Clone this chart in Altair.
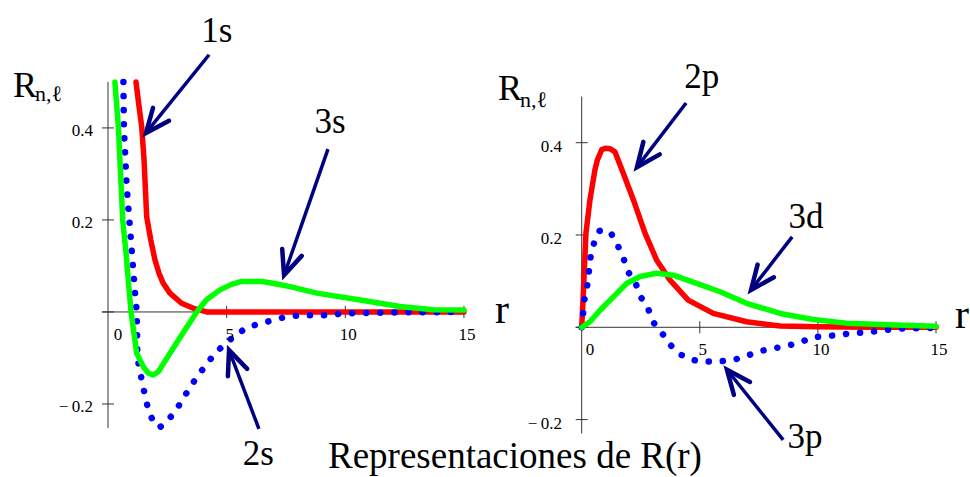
import math
import altair as alt
import pandas as pd

# ---------------- values ----------------
# Left panel: s orbitals
r_1s = [1.18, 1.30, 1.42, 1.52, 1.63, 1.80, 1.98, 2.15, 2.33, 2.61, 3.10, 3.60, 4.16, 6.0, 9.0, 12.0, 15.0]
R_1s = [0.500, 0.450, 0.403, 0.330, 0.207, 0.157, 0.113, 0.084, 0.062, 0.041, 0.019, 0.008, 0.000, 0.000, 0.000, 0.000, 0.000]

r_2s = [0.65, 0.67, 0.79, 0.90, 1.03, 1.14, 1.21, 1.24, 1.35, 1.59, 1.74, 1.99, 2.20, 2.44, 2.81, 3.15, 3.46, 3.83,
        4.16, 4.51, 4.96, 5.39, 5.91, 6.48, 6.97, 7.56, 8.12, 9.33, 9.90, 12.0, 15.0]
R_2s = [0.500, 0.400, 0.270, 0.200, 0.113, 0.041, 0.000, -0.100, -0.129, -0.190, -0.219, -0.247, -0.250, -0.240,
        -0.218, -0.190, -0.163, -0.136, -0.113, -0.090, -0.068, -0.050, -0.032, -0.025, -0.017, -0.010, -0.007,
        -0.007, -0.003, -0.001, 0.000]

r_3s = [0.29, 0.44, 0.62, 0.76, 0.97, 1.21, 1.49, 1.70, 1.91, 2.12, 2.61, 3.24, 3.74, 4.16, 4.72, 5.20, 5.60, 6.50,
        7.00, 7.67, 8.80, 10.5, 12.3, 13.7, 15.0]
R_3s = [0.500, 0.400, 0.200, 0.128, 0.000, -0.090, -0.119, -0.133, -0.137, -0.130, -0.090, -0.039, 0.000, 0.027,
        0.048, 0.060, 0.066, 0.066, 0.062, 0.055, 0.041, 0.027, 0.012, 0.005, 0.004]

# Right panel: p and d orbitals
r_2p = [0.0, 0.07, 0.18, 0.35, 0.56, 0.66, 0.85, 1.03, 1.20, 1.41, 1.76, 2.19, 2.68, 3.17, 3.74, 4.51, 5.57, 6.98,
        8.40, 10.0, 12.5, 15.0]
R_2p = [0.000, 0.074, 0.204, 0.276, 0.341, 0.362, 0.385, 0.388, 0.387, 0.380, 0.334, 0.276, 0.204, 0.146, 0.102,
        0.059, 0.030, 0.012, 0.003, 0.001, 0.000, 0.000]

r_3p = [0.0, 0.06, 0.12, 0.24, 0.31, 0.38, 0.52, 0.76, 1.00, 1.23, 1.52, 1.76, 1.97, 2.30, 2.51, 2.82, 3.03, 3.41,
        3.71, 4.18, 4.68, 5.23, 5.83, 6.42, 7.03, 7.59, 8.11, 8.70, 9.24, 9.76, 10.33, 10.9, 11.5, 12.1, 12.6, 13.2,
        13.8, 14.4, 15.0]
R_3p = [0.000, 0.030, 0.061, 0.092, 0.124, 0.155, 0.182, 0.209, 0.211, 0.205, 0.178, 0.151, 0.120, 0.093, 0.065,
        0.039, 0.011, -0.013, -0.036, -0.059, -0.071, -0.074, -0.074, -0.071, -0.061, -0.051, -0.046, -0.040,
        -0.033, -0.022, -0.019, -0.017, -0.012, -0.012, -0.007, -0.004, -0.002, -0.002, -0.001]

r_3d = [0.0, 0.35, 0.78, 1.34, 1.90, 2.47, 3.17, 3.88, 4.87, 5.86, 6.98, 8.40, 9.80, 11.2, 13.3, 15.0]
R_3d = [0.000, 0.012, 0.037, 0.066, 0.095, 0.110, 0.117, 0.113, 0.095, 0.077, 0.052, 0.030, 0.017, 0.009, 0.005,
        0.002]

# tick values
x_ticks = [5, 10, 15]
x_tick_labels = ["0", "5", "10", "15"]
y_ticks_left = [0.4, 0.2, 0.0, -0.2]
y_ticks_right = [0.4, 0.2, 0.0, -0.2]
y_tick_labels = ["0.4", "0.2", "\u2212\u20090.2"]

# annotation labels and arrows (tail -> tip, data units)
left_labels = ["1s", "3s", "2s"]
left_label_pos = [(4.59, 0.5876), (9.36, 0.3885), (6.33, -0.3326)]
left_arrows = [((4.26, 0.559), (1.60, 0.389)), ((9.27, 0.354), (7.42, 0.080)), ((6.36, -0.254), (5.10, -0.083))]

right_labels = ["2p", "3d", "3p"]
right_label_pos = [(5.08, 0.518), (9.50, 0.2145), (9.45, -0.262)]
right_arrows = [((4.42, 0.486), (2.34, 0.347)), ((8.91, 0.196), (7.17, 0.081)), ((8.53, -0.244), (6.15, -0.092))]

title_text = "Representaciones de R(r)"

# ---------------- layout ----------------
W, H = 485, 477
LX, LY = [-4.551, 15.887], [-0.3587, 0.678]
RX, RY = [-4.094, 16.44], [-0.3244, 0.7092]
FONT = "Liberation Serif"
NAVY = "#000080"
AX = "#333333"


def sc(dom):
    return alt.Scale(domain=dom, nice=False, zero=False)


def enc_xy(xd, yd):
    return dict(x=alt.X("x:Q", scale=sc(xd), axis=None), y=alt.Y("y:Q", scale=sc(yd), axis=None))


def curve(r, R, color, xd, yd, dotted=False):
    df = pd.DataFrame({"x": r, "y": R, "i": list(range(len(r)))})
    kw = dict(color=color, strokeJoin="round", strokeCap="round", strokeWidth=5.5)
    if dotted:
        kw.update(strokeDash=[0.1, 14], strokeWidth=6.5)
    return alt.Chart(df).mark_line(**kw).encode(order="i:Q", **enc_xy(xd, yd))


def rules(rows, xd, yd, color, width):
    df = pd.DataFrame(rows, columns=["x", "y", "x2", "y2"])
    return alt.Chart(df).mark_rule(color=color, strokeWidth=width).encode(
        x2="x2:Q", y2="y2:Q", **enc_xy(xd, yd))


def texts(rows, xd, yd, size, align, baseline, color="black"):
    df = pd.DataFrame(rows, columns=["x", "y", "t"])
    return alt.Chart(df).mark_text(font=FONT, fontSize=size, align=align, baseline=baseline,
                                   color=color).encode(text="t:N", **enc_xy(xd, yd))


def arrows(arr, xd, yd):
    sx = W / (xd[1] - xd[0])
    sy = H / (yd[1] - yd[0])
    shafts = [(t[0], t[1], h[0], h[1]) for t, h in arr]
    heads = []
    for t, h in arr:
        dx = (h[0] - t[0]) * sx
        dy = -(h[1] - t[1]) * sy
        ang = math.degrees(math.atan2(dy, dx)) % 360
        heads.append({"x": h[0], "y": h[1], "ang": ang})
    shaft_layer = rules(shafts, xd, yd, NAVY, 3.5)
    head_layer = alt.Chart(pd.DataFrame(heads)).mark_point(
        shape="M -1 -0.43 L 0 0 L -1 0.43", filled=False, stroke=NAVY, strokeWidth=4.5,
        strokeJoin="miter", strokeCap="round", size=2300, opacity=1
    ).encode(angle=alt.Angle("ang:Q", scale=None), **enc_xy(xd, yd))
    return shaft_layer + head_layer


def panel(xd, yd, curves, ytick_vals, y_bottom, xlab_dx0, xlab_y, ylab_x, ylab_dy,
          labels, label_pos, arr, rlab, Rlab, sub):
    sx = W / (xd[1] - xd[0])
    sy = H / (yd[1] - yd[0])
    tx = 6 / sx  # half tick length in x units
    ty = 6 / sy  # half tick length in y units
    axis_rows = [(0, y_bottom, 0, 0.5), (-tx, 0, 15, 0)]
    axis_rows += [(-tx, v, tx, v) for v in ytick_vals]
    axis_rows += [(v, -ty, v, ty) for v in x_ticks]
    layers = [rules(axis_rows, xd, yd, AX, 1)]
    layers += curves
    # x tick labels
    xl = [(xlab_dx0, xlab_y, x_tick_labels[0])]
    xl += [(v + 3 / sx, xlab_y, lab) for v, lab in zip(x_ticks, x_tick_labels[1:])]
    layers.append(texts(xl, xd, yd, 17, "center", "middle"))
    # y tick labels
    yl = [(ylab_x, v - ylab_dy / sy, lab) for v, lab in zip([0.4, 0.2, -0.2], y_tick_labels)]
    layers.append(texts(yl, xd, yd, 17, "right", "middle"))
    # curve labels
    layers.append(texts([(p[0], p[1], t) for p, t in zip(label_pos, labels)], xd, yd, 35, "center", "alphabetic"))
    layers.append(arrows(arr, xd, yd))
    # r label and R_{n,l}
    layers.append(texts([rlab], xd, yd, 42, "center", "alphabetic"))
    layers.append(texts([Rlab], xd, yd, 36, "left", "alphabetic"))
    layers.append(texts([sub], xd, yd, 22, "left", "alphabetic"))
    return layers


left_curves = [
    curve(r_1s, R_1s, "#ff0000", LX, LY),
    curve(r_2s, R_2s, "#0000ff", LX, LY, dotted=True),
    curve(r_3s, R_3s, "#00ff00", LX, LY),
]
right_curves = [
    curve(r_2p, R_2p, "#ff0000", RX, RY),
    curve(r_3p, R_3p, "#0000ff", RX, RY, dotted=True),
    curve(r_3d, R_3d, "#00ff00", RX, RY),
]

left_layers = panel(LX, LY, left_curves, y_ticks_left, -0.252, 0.42, -0.05, -0.63, 3.5,
                    left_labels, left_label_pos, left_arrows,
                    (16.6, -0.024, "r"), (-4.0, 0.4667, "R"), (-3.08, 0.4587, "n,\u2113"))
left_layers.append(texts([(17.15, -0.3395, title_text)], LX, LY, 37, "center", "alphabetic"))
left = alt.layer(*left_layers).properties(width=W, height=H)

right_layers = panel(RX, RY, right_curves, y_ticks_right, -0.23, 0.35, -0.049, -0.83, 4,
                     right_labels, right_label_pos, right_arrows,
                     (16.10, -0.0015, "r"), (-3.54, 0.4925, "R"), (-2.61, 0.478, "n,\u2113"))
right = alt.layer(*right_layers).properties(width=W, height=H)

chart = alt.hconcat(left, right, spacing=0, bounds="flush").properties(padding=0).configure_view(strokeWidth=0)
chart.save("out.html", embed_options={"renderer": "svg", "actions": False})
